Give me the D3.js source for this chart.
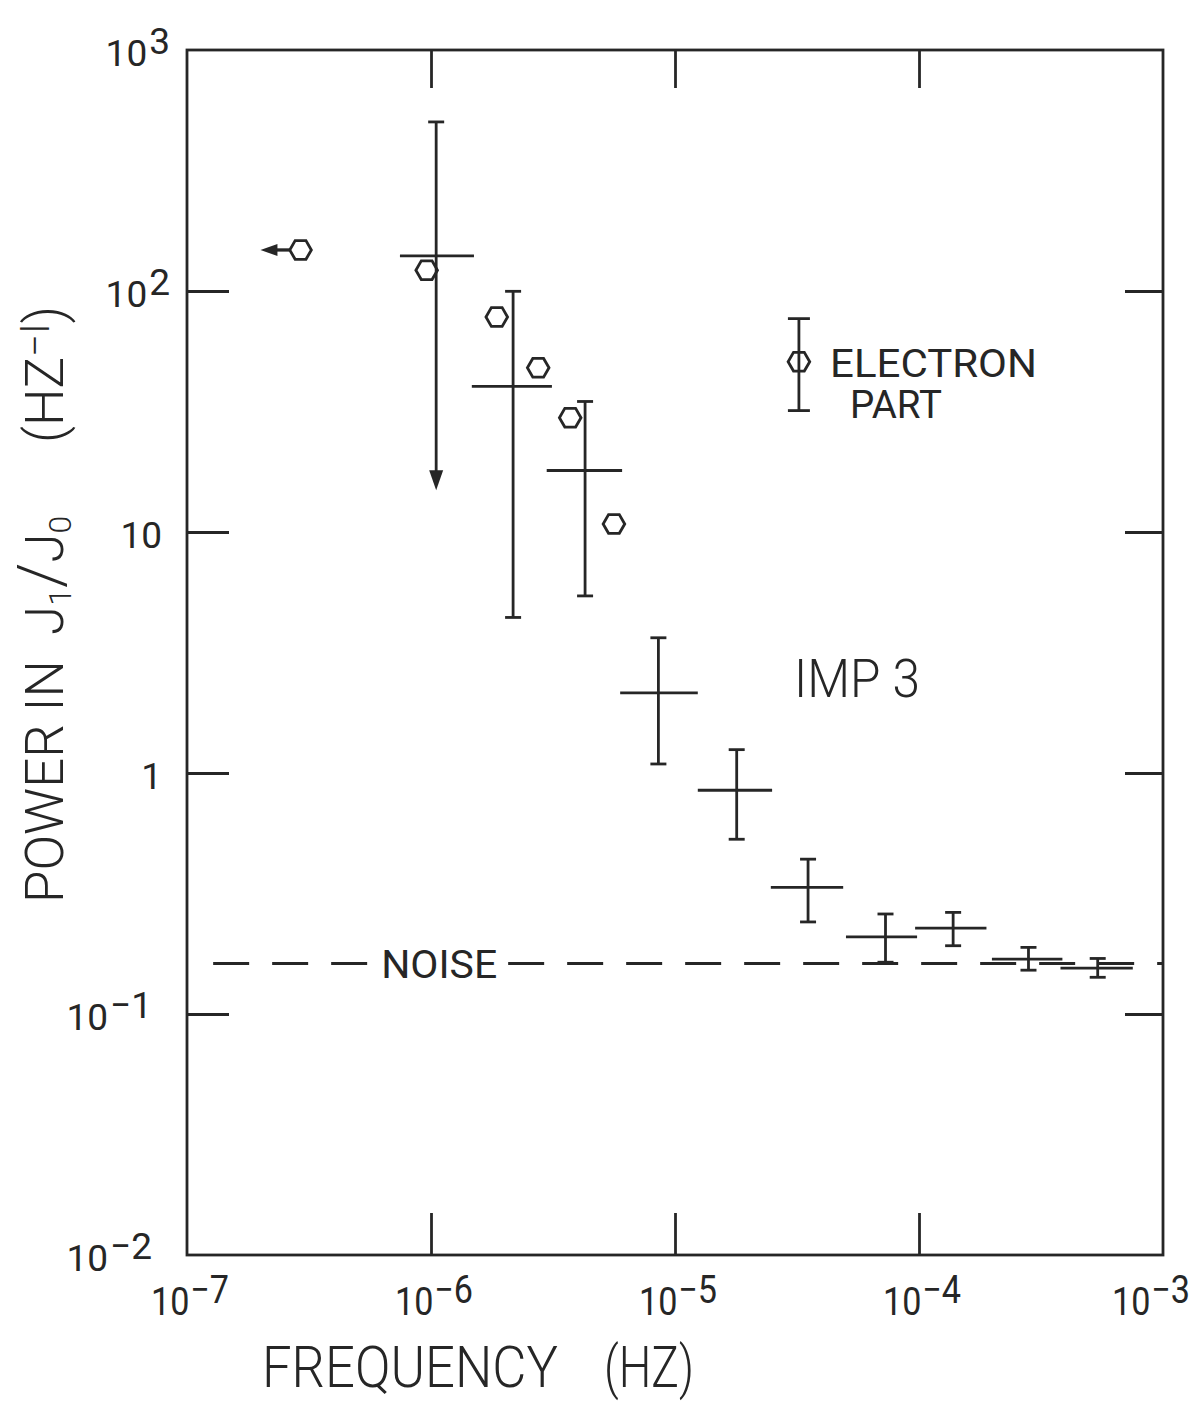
<!DOCTYPE html>
<html>
<head>
<meta charset="utf-8">
<script src="https://cdn.jsdelivr.net/npm/d3@7"></script>
<style>
	body { margin: 0; background: #fff; }
	svg text { font-family: Roboto, "DejaVu Sans", sans-serif; font-weight: 300; fill: #262626; }
	svg text.small { font-weight: 400; }
	.axis line { stroke: #262626; stroke-width: 2.8; }
</style>
</head>
<body>
<svg id="chart"></svg>
<script>
// axis ticks
var freq_ticks = [1e-7, 1e-6, 1e-5, 1e-4, 1e-3];
var freq_tick_exp = ["-7", "-6", "-5", "-4", "-3"];
var power_ticks = [1e3, 1e2, 10, 1, 1e-1, 1e-2];
var power_tick_base = ["10", "10", "10", "1", "10", "10"];
var power_tick_exp = ["3", "2", "", "", "-1", "-2"];

// IMP 3 spectrum (crosses): bin centre, bin edges, power and error range
var imp_freq    = [1.05e-6, 2.17e-6, 4.28e-6, 8.55e-6, 1.79e-5, 3.51e-5, 7.29e-5, 1.38e-4, 2.81e-4, 5.40e-4];
var imp_freq_lo = [7.46e-7, 1.47e-6, 2.98e-6, 5.96e-6, 1.24e-5, 2.47e-5, 5.02e-5, 9.64e-5, 1.99e-4, 3.80e-4];
var imp_freq_hi = [1.50e-6, 3.13e-6, 6.07e-6, 1.24e-5, 2.50e-5, 4.89e-5, 9.82e-5, 1.89e-4, 3.87e-4, 7.52e-4];
var imp_power    = [140, 40.2, 18.0, 2.15, 0.848, 0.335, 0.209, 0.227, 0.169, 0.155];
var imp_power_hi = [503, 99.7, 34.8, 3.64, 1.25, 0.439, 0.260, 0.264, 0.189, 0.170];
var imp_power_lo = [14.9, 4.42, 5.43, 1.09, 0.531, 0.241, 0.164, 0.192, 0.152, 0.142];
var imp_lower_is_limit = [true, false, false, false, false, false, false, false, false, false];

// electron part (hexagons)
var elec_freq  = [2.92e-7, 9.6e-7, 1.86e-6, 2.75e-6, 3.72e-6, 5.62e-6];
var elec_power = [148, 122, 78, 48, 29.8, 10.8];
var elec_freq_limit = [2.0e-7, null, null, null, null, null];

// noise level
var noise_level = 0.162;
var noise_range = [1.28e-7, 1e-3];
var noise_label_freq = 1.08e-6;

// electron legend sample
var legend_freq = 3.22e-5;
var legend_power = [50.9, 31.9, 76.8];

;(function(){
	var w = 1204;
	var h = 1402;
	var ink = "#262626";
	var sw = 2.8;
	var cap = 8;
	var hexR = 10.8;

	var svg = d3.select("#chart")
		.attr("width", w)
		.attr("height", h);

	svg.append("rect")
		.attr("width", w)
		.attr("height", h)
		.attr("fill", "#fff");

	var xscale = d3.scaleLog().domain([1e-7, 1e-3]).range([187, 1163]);
	var yscale = d3.scaleLog().domain([1e-2, 1e3]).range([1255, 50]);

	var xr = xscale.range();
	var yr = yscale.range();

	// 1) frame
	svg.append("rect")
		.attr("x", xr[0])
		.attr("y", yr[1])
		.attr("width", xr[1] - xr[0])
		.attr("height", yr[0] - yr[1])
		.attr("fill", "none")
		.attr("stroke", ink)
		.attr("stroke-width", sw);

	// 2) inward ticks on all four sides
	var xinner = freq_ticks.slice(1, freq_ticks.length - 1);
	var yinner = power_ticks.slice(1, power_ticks.length - 1);

	var axes = [
		{ axis: d3.axisBottom(xscale).tickValues(xinner).tickSizeInner(-42), t: "translate(0," + yr[0] + ")" },
		{ axis: d3.axisTop(xscale).tickValues(xinner).tickSizeInner(-38), t: "translate(0," + yr[1] + ")" },
		{ axis: d3.axisLeft(yscale).tickValues(yinner).tickSizeInner(-42), t: "translate(" + xr[0] + ",0)" },
		{ axis: d3.axisRight(yscale).tickValues(yinner).tickSizeInner(-38), t: "translate(" + xr[1] + ",0)" }
	];
	axes.forEach(function(a){
		var g = svg.append("g")
			.attr("class", "axis")
			.attr("transform", a.t)
			.call(a.axis.tickSizeOuter(0).tickFormat(""));
		g.select("path.domain").remove();
	});

	// 3) tick labels with superscript exponents
	var xlabW = 78;
	var xlab = svg.append("g").attr("class", "x labels");
	freq_ticks.forEach(function(d, i){
		var t = xlab.append("text")
			.attr("class", "small")
			.attr("x", Math.min(xscale(d) - 36, w - 14 - xlabW))
			.attr("y", 1315)
			.attr("textLength", xlabW)
			.attr("lengthAdjust", "spacingAndGlyphs")
			.style("font-size", "39px");
		t.append("tspan").text("10");
		t.append("tspan")
			.attr("dy", -12)
			.attr("dx", 1)
			.text(freq_tick_exp[i].replace("-", "\u2212"));
	});

	var ylab = svg.append("g").attr("class", "y labels");
	power_ticks.forEach(function(d, i){
		var ex = power_tick_exp[i];
		var t = ylab.append("text")
			.attr("class", "small")
			.attr("x", ex ? (ex.charAt(0) == "-" ? 152 : 170) : 162)
			.attr("y", yscale(d) + 16)
			.attr("text-anchor", "end")
			.style("font-size", "37px");
		t.append("tspan").text(power_tick_base[i]);
		if (ex){
			t.append("tspan")
				.attr("dy", -12)
				.attr("dx", 2)
				.text(ex.replace("-", "\u2212"));
		}
	});

	// 4) noise level
	var ny = yscale(noise_level);
	svg.append("line")
		.attr("x1", xscale(noise_range[0]))
		.attr("x2", xscale(noise_range[1]))
		.attr("y1", ny)
		.attr("y2", ny)
		.attr("stroke", ink)
		.attr("stroke-width", sw)
		.attr("stroke-dasharray", "36,23");

	var noiseText = svg.append("text")
		.attr("class", "small")
		.attr("x", xscale(noise_label_freq))
		.attr("y", ny + 14)
		.attr("text-anchor", "middle")
		.attr("textLength", 116)
		.attr("lengthAdjust", "spacingAndGlyphs")
		.style("font-size", "39px")
		.text("NOISE");
	var bb = noiseText.node().getBBox();
	svg.insert("rect", function(){ return noiseText.node(); })
		.attr("x", bb.x - 8)
		.attr("y", ny - 4)
		.attr("width", bb.width + 16)
		.attr("height", 8)
		.attr("fill", "#fff");

	// 5) IMP 3 crosses
	var g = svg.append("g").attr("class", "imp");
	imp_freq.forEach(function(f, i){
		var cx = xscale(f);
		var cy = yscale(imp_power[i]);
		var top = yscale(imp_power_hi[i]);
		var bot = yscale(imp_power_lo[i]);

		g.append("line")
			.attr("x1", xscale(imp_freq_lo[i])).attr("x2", xscale(imp_freq_hi[i]))
			.attr("y1", cy).attr("y2", cy)
			.attr("stroke", ink).attr("stroke-width", sw);

		var vend = imp_lower_is_limit[i] ? bot - 16 : bot;
		g.append("line")
			.attr("x1", cx).attr("x2", cx)
			.attr("y1", top).attr("y2", vend)
			.attr("stroke", ink).attr("stroke-width", sw);

		g.append("line")
			.attr("x1", cx - cap).attr("x2", cx + cap)
			.attr("y1", top).attr("y2", top)
			.attr("stroke", ink).attr("stroke-width", sw);

		if (imp_lower_is_limit[i]){
			// upper limit: arrow pointing down
			g.append("path")
				.attr("d", "M" + (cx - 7) + "," + (bot - 20) + " L" + (cx + 7) + "," + (bot - 20) + " L" + cx + "," + bot + " Z")
				.attr("fill", ink);
		}
		else{
			g.append("line")
				.attr("x1", cx - cap).attr("x2", cx + cap)
				.attr("y1", bot).attr("y2", bot)
				.attr("stroke", ink).attr("stroke-width", sw);
		}
	});

	// 6) electron part hexagons
	function hexPath(cx, cy){
		var pts = d3.range(6).map(function(k){
			var a = Math.PI / 3 * k;
			return [cx + hexR * Math.cos(a), cy + hexR * Math.sin(a)];
		});
		return "M" + pts.join("L") + "Z";
	}

	var e = svg.append("g").attr("class", "electron");
	elec_freq.forEach(function(f, i){
		var cx = xscale(f);
		var cy = yscale(elec_power[i]);
		e.append("path")
			.attr("d", hexPath(cx, cy))
			.attr("fill", "none")
			.attr("stroke", ink)
			.attr("stroke-width", sw);

		if (elec_freq_limit[i]){
			var tip = xscale(elec_freq_limit[i]);
			e.append("line")
				.attr("x1", cx - hexR).attr("x2", tip + 12)
				.attr("y1", cy).attr("y2", cy)
				.attr("stroke", ink).attr("stroke-width", sw + 0.5);
			e.append("path")
				.attr("d", "M" + tip + "," + cy + " L" + (tip + 17) + "," + (cy - 6) + " L" + (tip + 17) + "," + (cy + 6) + " Z")
				.attr("fill", ink);
		}
	});

	// 7) legend for the electron part
	var lx = xscale(legend_freq);
	var ly = legend_power.map(function(d){ return yscale(d); });
	var lg = svg.append("g").attr("class", "legend");
	lg.append("line")
		.attr("x1", lx).attr("x2", lx)
		.attr("y1", ly[2]).attr("y2", ly[1])
		.attr("stroke", ink).attr("stroke-width", sw);
	[ly[1], ly[2]].forEach(function(y){
		lg.append("line")
			.attr("x1", lx - 11).attr("x2", lx + 11)
			.attr("y1", y).attr("y2", y)
			.attr("stroke", ink).attr("stroke-width", sw);
	});
	lg.append("path")
		.attr("d", hexPath(lx, ly[0]))
		.attr("fill", "#fff")
		.attr("stroke", ink)
		.attr("stroke-width", sw);
	lg.append("line")
		.attr("x1", lx).attr("x2", lx)
		.attr("y1", ly[0] - 9).attr("y2", ly[0] + 9)
		.attr("stroke", ink).attr("stroke-width", sw);

	lg.append("text")
		.attr("class", "small")
		.attr("x", 830).attr("y", 377)
		.attr("textLength", 207).attr("lengthAdjust", "spacingAndGlyphs")
		.style("font-size", "38px")
		.text("ELECTRON");
	lg.append("text")
		.attr("class", "small")
		.attr("x", 850).attr("y", 418)
		.attr("textLength", 92).attr("lengthAdjust", "spacingAndGlyphs")
		.style("font-size", "38px")
		.text("PART");

	svg.append("text")
		.attr("x", 794).attr("y", 697)
		.attr("textLength", 126).attr("lengthAdjust", "spacingAndGlyphs")
		.style("font-size", "53px")
		.text("IMP 3");

	// 8) axis titles
	svg.append("text")
		.attr("x", 262).attr("y", 1387)
		.attr("textLength", 296).attr("lengthAdjust", "spacingAndGlyphs")
		.style("font-size", "58px")
		.text("FREQUENCY");
	svg.append("text")
		.attr("x", 604).attr("y", 1387)
		.attr("textLength", 90).attr("lengthAdjust", "spacingAndGlyphs")
		.style("font-size", "58px")
		.text("(HZ)");

	var yt = svg.append("g")
		.attr("transform", "translate(63,903) rotate(-90)");
	yt.append("text")
		.attr("x", 0).attr("y", 0)
		.attr("textLength", 243).attr("lengthAdjust", "spacingAndGlyphs")
		.style("font-size", "53px")
		.text("POWER IN");
	var t2 = yt.append("text")
		.attr("x", 268).attr("y", 0)
		.style("font-size", "53px");
	t2.append("tspan").text("J");
	t2.append("tspan").attr("dy", 8).style("font-size", "32px").text("1");
	t2.append("tspan").attr("dy", -8).style("font-size", "64px").text("/");
	t2.append("tspan").text("J");
	t2.append("tspan").attr("dy", 8).style("font-size", "32px").text("0");
	var t3 = yt.append("text")
		.attr("x", 460).attr("y", 0)
		.style("font-size", "53px");
	t3.append("tspan").text("(HZ");
	t3.append("tspan").attr("dy", -14).style("font-size", "40px").text("\u2212I");
	t3.append("tspan").attr("dy", 14).text(")");
})();
</script>
</body>
</html>
